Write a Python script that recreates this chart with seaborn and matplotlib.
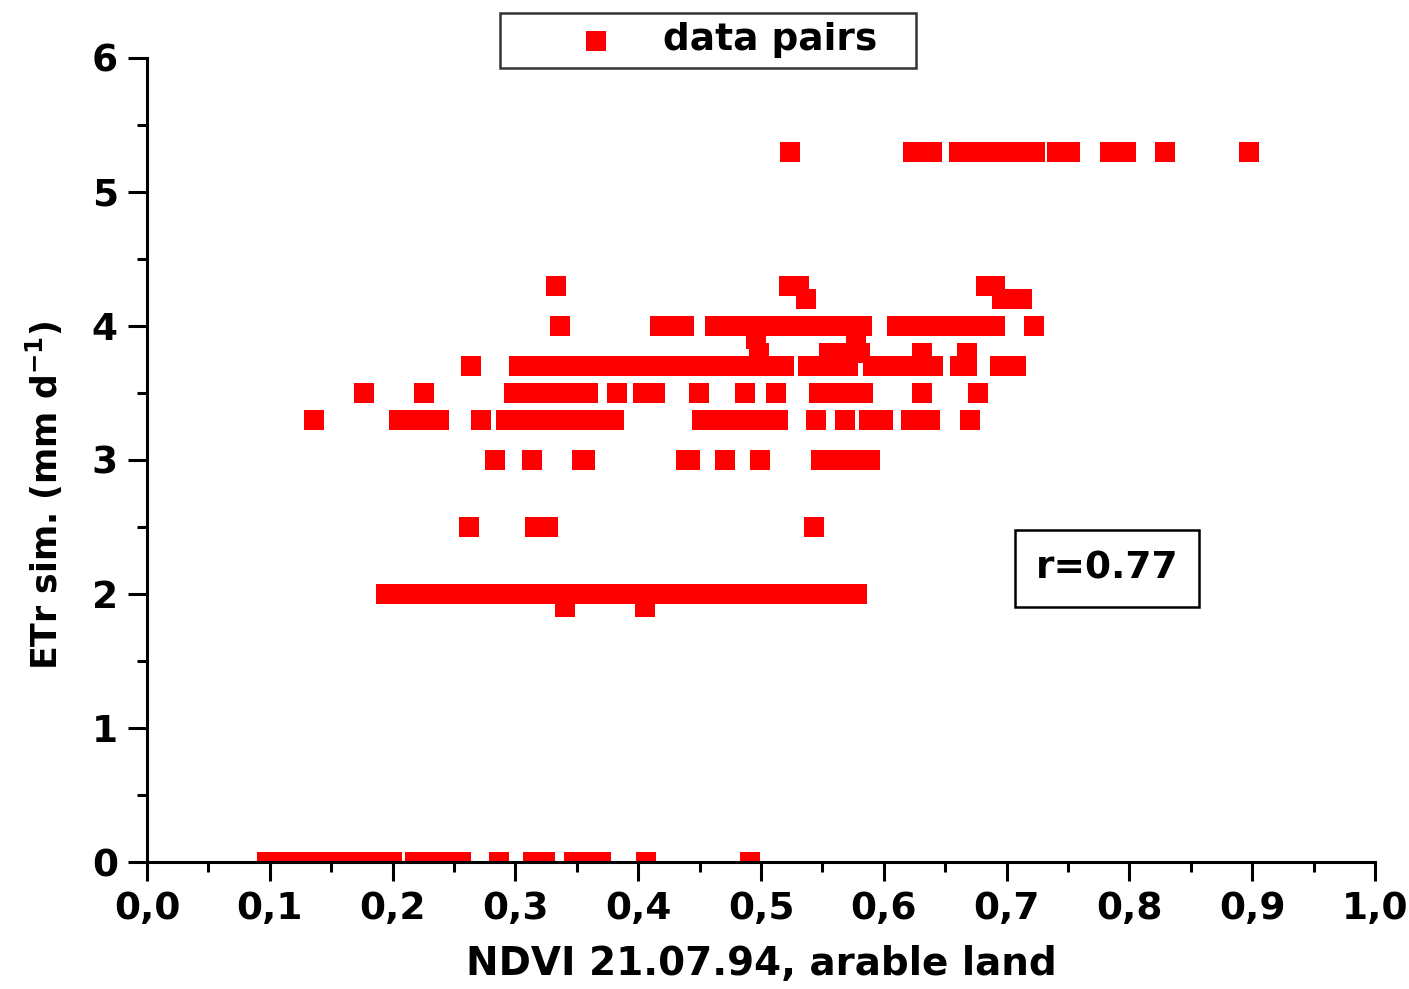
import seaborn as sns
import matplotlib.pyplot as plt
import pandas as pd
from matplotlib.ticker import MultipleLocator, FixedLocator

# ETr levels (mm/d) and the NDVI values read for each level
etr_levels = [5.3, 4.3, 4.2, 4.0, 3.9, 3.8, 3.7, 3.5, 3.3, 3.0, 2.5, 2.0, 1.9, 0.0]

ndvi_53 = [0.524, 0.624, 0.632, 0.639, 0.661, 0.671, 0.682, 0.692, 0.702, 0.713, 0.723,
           0.741, 0.752, 0.784, 0.797, 0.829, 0.897]
ndvi_43 = [0.333, 0.523, 0.531, 0.683, 0.6905]
ndvi_42 = [0.537, 0.696, 0.704, 0.7125]
ndvi_40 = [0.336, 0.418, 0.428, 0.437,
           0.4625, 0.472, 0.482, 0.492, 0.502, 0.512, 0.522, 0.532, 0.542, 0.552, 0.562, 0.572, 0.582,
           0.611, 0.621, 0.631, 0.641, 0.651, 0.661, 0.671, 0.681, 0.6905, 0.722]
ndvi_39 = [0.496, 0.577]
ndvi_38 = [0.498, 0.555, 0.565, 0.574, 0.581, 0.631, 0.668]
ndvi_37 = [0.264,
           0.303, 0.312, 0.322, 0.331, 0.341, 0.350, 0.360, 0.369, 0.379, 0.388, 0.398, 0.407,
           0.417, 0.426, 0.436, 0.445, 0.455, 0.464, 0.474, 0.483, 0.493, 0.502, 0.511, 0.519,
           0.538, 0.548, 0.558, 0.571, 0.591, 0.601, 0.611, 0.621, 0.631, 0.640,
           0.662, 0.668, 0.695, 0.702, 0.708]
ndvi_35 = [0.177, 0.2255, 0.299, 0.309, 0.319, 0.329, 0.339, 0.349, 0.359, 0.383, 0.404, 0.414,
           0.4495, 0.487, 0.512, 0.547, 0.557, 0.567, 0.576, 0.583, 0.631, 0.677]
ndvi_33 = [0.136, 0.205, 0.216, 0.227, 0.238, 0.272,
           0.292, 0.302, 0.312, 0.322, 0.332, 0.342, 0.352, 0.362, 0.372, 0.380,
           0.452, 0.462, 0.472, 0.482, 0.492, 0.502, 0.514, 0.545, 0.568, 0.588, 0.599,
           0.622, 0.630, 0.638, 0.670]
ndvi_30 = [0.283, 0.3135, 0.354, 0.357, 0.439, 0.442, 0.4705, 0.499,
           0.549, 0.559, 0.569, 0.579, 0.589]
ndvi_25 = [0.262, 0.316, 0.3265, 0.543]
ndvi_20 = [0.195, 0.205, 0.214, 0.224, 0.233, 0.243, 0.252, 0.262, 0.271, 0.281, 0.290, 0.300,
           0.309, 0.319, 0.328, 0.338, 0.347, 0.357, 0.366, 0.376, 0.385, 0.395, 0.404, 0.414,
           0.423, 0.433, 0.442, 0.452, 0.461, 0.471, 0.480, 0.490, 0.499, 0.509, 0.518, 0.528,
           0.537, 0.547, 0.556, 0.566, 0.578]
ndvi_19 = [0.340, 0.4055]
ndvi_00 = [0.098, 0.108, 0.118, 0.128, 0.138, 0.148, 0.158, 0.168, 0.178, 0.188, 0.1995,
           0.218, 0.228, 0.238, 0.248, 0.256, 0.287, 0.314, 0.324, 0.348, 0.358, 0.370,
           0.406, 0.491]

ndvi_groups = [ndvi_53, ndvi_43, ndvi_42, ndvi_40, ndvi_39, ndvi_38, ndvi_37,
               ndvi_35, ndvi_33, ndvi_30, ndvi_25, ndvi_20, ndvi_19, ndvi_00]

x_ticks = [0.0, 0.1, 0.2, 0.3, 0.4, 0.5, 0.6, 0.7, 0.8, 0.9, 1.0]
x_tick_labels = ["0,0", "0,1", "0,2", "0,3", "0,4", "0,5", "0,6", "0,7", "0,8", "0,9", "1,0"]
y_ticks = [0, 1, 2, 3, 4, 5, 6]

df = pd.concat([pd.DataFrame({"ndvi": xs, "etr": lvl}) for lvl, xs in zip(etr_levels, ndvi_groups)],
               ignore_index=True)

sns.set_theme(style="ticks")
plt.rcParams["font.family"] = ["DejaVu Sans"]
plt.rcParams["font.weight"] = "bold"
plt.rcParams["mathtext.fontset"] = "custom"
plt.rcParams["mathtext.rm"] = "DejaVu Sans:bold"
plt.rcParams["mathtext.bf"] = "DejaVu Sans:bold"
plt.rcParams["text.color"] = "black"
plt.rcParams["axes.labelcolor"] = "black"
plt.rcParams["xtick.color"] = "black"
plt.rcParams["ytick.color"] = "black"

FS = 27

fig = plt.figure(figsize=(14.09, 9.89), dpi=100)
ax = fig.add_axes([0.1043, 0.1284, 0.8716, 0.813])

sns.scatterplot(data=df, x="ndvi", y="etr", marker="s", color="#ff0000", s=207,
                linewidth=0, label="data pairs", ax=ax)

ax.set_xlim(0, 1.0)
ax.set_ylim(0, 6)
ax.xaxis.set_major_locator(FixedLocator(x_ticks))
ax.set_xticklabels(x_tick_labels)
ax.set_yticks(y_ticks)
ax.xaxis.set_minor_locator(MultipleLocator(0.05))
ax.yaxis.set_minor_locator(MultipleLocator(0.5))
ax.tick_params(which="major", direction="out", length=14, width=2.2, labelsize=FS, pad=7,
               color="black", labelcolor="black")
ax.tick_params(which="minor", direction="out", length=7, width=2.2, color="black")
for lab in ax.get_xticklabels() + ax.get_yticklabels():
    lab.set_fontweight("bold")

sns.despine(ax=ax)
for sp in ["left", "bottom"]:
    ax.spines[sp].set_linewidth(2.2)
    ax.spines[sp].set_color("black")

ax.set_xlabel("NDVI 21.07.94, arable land", fontsize=FS + 1, fontweight="bold", color="black")
ax.set_ylabel(r"ETr sim. (mm d$^{-1}$)", fontsize=FS - 2, fontweight="bold", color="black")
ax.xaxis.set_label_coords(0.5, -0.103)
ax.yaxis.set_label_coords(-0.067, 0.456)

leg = ax.legend(loc="center", bbox_to_anchor=(500 / 1409, 1 - 71 / 989, 416 / 1409, 61 / 989),
                bbox_transform=fig.transFigure, mode="expand", fontsize=FS, frameon=True,
                fancybox=False, edgecolor="black", borderpad=0.25, handlelength=4.6,
                handletextpad=-0.5, borderaxespad=0)
leg.get_frame().set_linewidth(1.8)
for t in leg.get_texts():
    t.set_fontweight("bold")
    t.set_color("black")

ax.text(0.782, 2.19, "r=0.77", fontsize=FS, fontweight="bold", ha="center", va="center",
        color="black",
        bbox=dict(boxstyle="square,pad=0.55", facecolor="white", edgecolor="black", linewidth=1.8))

fig.savefig("out.png", dpi=100)
